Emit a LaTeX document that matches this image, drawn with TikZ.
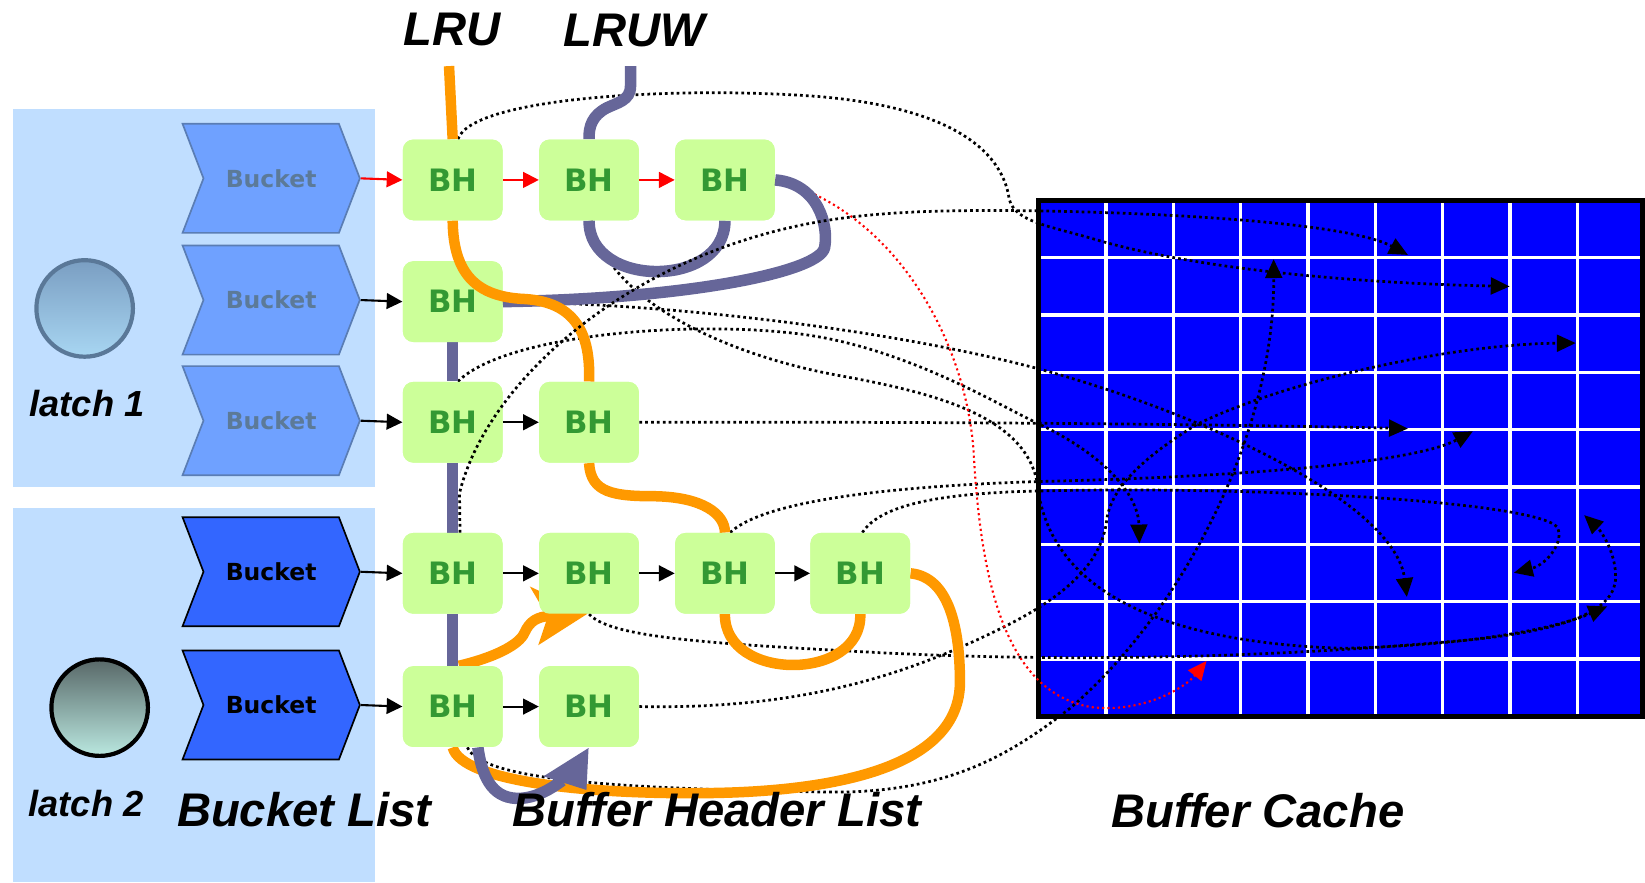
\documentclass[tikz,border=0pt]{standalone}
\usepackage{fontspec}
\setmainfont{DejaVu Sans}
\newfontfamily\labfont{Liberation Sans}
\usetikzlibrary{arrows.meta,shapes.symbols,calc}

\definecolor{panel}{RGB}{192,222,255}
\definecolor{bktlight}{RGB}{111,161,255}
\definecolor{bktlightline}{RGB}{90,125,180}
\definecolor{bktlighttext}{RGB}{92,122,152}
\definecolor{bktdark}{RGB}{51,102,255}
\definecolor{bhfill}{RGB}{204,255,153}
\definecolor{bhtext}{RGB}{51,153,51}
\definecolor{lruorange}{RGB}{255,153,0}
\definecolor{lruwpurple}{RGB}{102,102,153}
\definecolor{cacheblue}{RGB}{0,0,255}
\definecolor{latchA}{RGB}{122,158,194}
\definecolor{latchAb}{RGB}{168,214,242}
\definecolor{latchAline}{RGB}{90,120,152}
\definecolor{latchBtop}{RGB}{88,104,104}
\definecolor{latchBbot}{RGB}{186,232,224}

\begin{document}
\begin{tikzpicture}[x=0.5pt,y=-0.5pt,
  bkt/.style={shape=signal, signal from=west, signal to=east,
    signal pointer angle=138, minimum width=84.5pt, minimum height=52pt,
    inner sep=0pt, line width=0.8pt,
    font=\bfseries\fontsize{11.2}{13}\selectfont},
  bktup/.style={bkt, fill=bktlight, draw=bktlightline, text=bktlighttext},
  bktlo/.style={bkt, fill=bktdark, draw=black, text=black},
  bh/.style={rectangle, rounded corners=5pt, fill=bhfill,
    minimum width=47.5pt, minimum height=38.5pt, inner sep=0pt,
    text=bhtext, font=\bfseries\fontsize{14.7}{16}\selectfont},
  link/.style={-{Triangle[length=7.5pt,width=7.5pt]}, line width=1pt, black},
  redlink/.style={link, red},
  ptr/.style={-{Triangle[length=9pt,width=8pt]}, line width=1.3pt,
    dash pattern=on 1.3pt off 1.5pt, black},
  redptr/.style={ptr, red, line width=1pt, dash pattern=on 1pt off 1.5pt},
  lru/.style={line width=5pt, lruorange},
  lruw/.style={line width=5.5pt, lruwpurple},
  lab/.style={inner sep=0pt, font=\labfont\bfseries\itshape\fontsize{22.5}{26}\selectfont},
  latchlab/.style={inner sep=0pt, font=\labfont\bfseries\itshape\fontsize{17.3}{20}\selectfont},
]
\useasboundingbox (0,0) rectangle (1568,841);

% latch panels
\fill[panel] (12,104) rectangle (357,464);
\fill[panel] (12,484) rectangle (357,841);

% latch symbols
\node[circle, minimum size=46pt, inner sep=0pt, line width=2pt, draw=latchAline,
  top color=latchA, bottom color=latchAb] (c1) at (80.7,294) {};
\node[circle, minimum size=46pt, inner sep=0pt, line width=2pt, draw=black,
  top color=latchBtop, bottom color=latchBbot] (c2) at (95,674.5) {};
\node[latchlab, anchor=base] (l1) at (83,397) {latch 1};
\node[latchlab, anchor=base] (l2) at (82,778.5) {latch 2};

% bucket list
\node[bktup] (k1) at (258.5,170) {Bucket};
\node[bktup] (k2) at (258.5,286) {Bucket};
\node[bktup] (k3) at (258.5,401) {Bucket};
\node[bktlo] (k4) at (258.5,545) {Bucket};
\node[bktlo] (k5) at (258.5,672) {Bucket};

% buffer cache grid
\fill[cacheblue] (990,191) rectangle (1566,683);
\foreach \i in {1,...,8} {
  \draw[white, line width=1.6pt] ({990+64.2*\i},191) -- ({990+64.2*\i},683);
  \draw[white, line width=1.6pt] (990,{191+54.65*\i}) -- (1566,{191+54.65*\i});
}
\draw[line width=2.5pt] (990,191) rectangle (1566,683);

% cache cells referenced by the headers
\coordinate (t1) at (1342,243);
\coordinate (t2) at (1439,273);
\coordinate (t3) at (1214,247);
\coordinate (t4) at (1502,327);
\coordinate (t5) at (1342,408.5);
\coordinate (t6) at (1404,411);
\coordinate (t7) at (1086,518);
\coordinate (t8) at (1341,569);
\coordinate (t9) at (1443,546);
\coordinate (t10) at (1510,491);
\coordinate (t11) at (1532,578);
\coordinate (t12) at (1150,630);

% buffer headers (placed first so connectors can refer to them)
\path
  (431.5,171.5) node[bh] (bh11) {BH}
  (561.5,171.5) node[bh] (bh12) {BH}
  (691,171.5)   node[bh] (bh13) {BH}
  (431.5,287.5) node[bh] (bh21) {BH}
  (431.5,402.5) node[bh] (bh31) {BH}
  (561.5,402.5) node[bh] (bh32) {BH}
  (431.5,546.5) node[bh] (bh41) {BH}
  (561.5,546.5) node[bh] (bh42) {BH}
  (691,546.5)   node[bh] (bh43) {BH}
  (820,546.5)   node[bh] (bh44) {BH}
  (431.5,673.5) node[bh] (bh51) {BH}
  (561.5,673.5) node[bh] (bh52) {BH};

% pointers from headers into the cache
\draw[ptr] ($(bh11.north)+(5,0)$) .. controls (450,92) and (650,82) .. (780,92)
  .. controls (900,102) and (955,140) .. (962,190)
  .. controls (968,212) and (1000,215) .. (1050,230)
  .. controls (1150,258) and (1300,270) .. (t2);
\draw[ptr] (bh21.east) .. controls (650,290) and (850,315) .. (988,351)
  .. controls (1150,395) and (1330,480) .. (t8);
\draw[ptr] ($(bh31.north)+(5,0)$) .. controls (480,320) and (650,305) .. (760,318)
  .. controls (860,330) and (950,385) .. (988,403)
  .. controls (1050,432) and (1085,470) .. (t7);
\draw[ptr] ($(bh12.south)+(2,0)$) .. controls (580,290) and (700,340) .. (800,358)
  .. controls (900,376) and (985,400) .. (990,470)
  .. controls (1005,560) and (1100,612) .. (1280,618)
  .. controls (1400,615) and (1480,600) .. (t11);
\draw[ptr] (bh32.east) .. controls (800,402) and (1100,403) .. (t5);
\draw[ptr] ($(bh43.north)+(5,0)$) .. controls (720,485) and (800,465) .. (990,459)
  .. controls (1200,454) and (1350,440) .. (t6);
\draw[ptr] ($(bh44.north)+(2,0)$) .. controls (840,480) and (900,470) .. (990,468)
  .. controls (1200,463) and (1460,478) .. (1484,502)
  .. controls (1492,515) and (1475,538) .. (t9);
\draw[ptr] (bh42.south) .. controls (580,605) and (650,612) .. (800,620)
  .. controls (1000,632) and (1200,628) .. (1400,610)
  .. controls (1500,600) and (1540,580) .. (1540,550)
  .. controls (1540,525) and (1525,505) .. (t10);
\draw[ptr] ($(bh51.south)+(14,0)$) .. controls (460,745) and (600,752) .. (790,755)
  .. controls (900,756) and (960,722) .. (1020,675)
  .. controls (1120,590) and (1215,420) .. (t3);
\draw[ptr] (bh52.east) .. controls (750,676) and (850,650) .. (950,601)
  .. controls (1010,572) and (1050,540) .. (1055,495)
  .. controls (1060,460) and (1100,430) .. (1140,405)
  .. controls (1220,365) and (1380,328) .. (t4);
\draw[redptr] (bh13.east) .. controls (850,200) and (920,320) .. (928,430)
  .. controls (935,560) and (960,660) .. (1040,674)
  .. controls (1090,680) and (1130,655) .. (t12);

% LRU chain (parts that run beneath the headers)
\coordinate (lrutop) at (428,63);
\draw[lru] (lrutop) -- (bh11.north);
\draw[lru] (bh32.south) .. controls (563,470) and (585,473) .. (625,473)
  .. controls (670,474) and (691,490) .. (bh43.north);
\draw[lru] (bh43.south) .. controls (690,650) and (822,650) .. (bh44.south);
\draw[lru] (bh44.east) .. controls (905,550) and (915,600) .. (915,650)
  .. controls (915,730) and (800,755) .. (670,756)
  .. controls (560,757) and (440,745) .. (bh51.south);
\draw[lru] ($(bh51.north)+(6,0)$) .. controls (470,627) and (495,615) .. (500,603)
  .. controls (505,592) and (512,588) .. (524,587);
\fill[lruorange] (560,585) -- (505,559) -- (522,588) -- (513,615) -- cycle;

% LRUW chain
\coordinate (lruwtop) at (601,63);
\draw[lruw] (lruwtop) -- (601,82) .. controls (601,96) and (588,98) .. (578,103)
  .. controls (565,110) and (561,120) .. (bh12.north);
\draw[lruw] (bh12.south) .. controls (561,275) and (691,275) .. (bh13.south);
\draw[lruw] (bh21.south) -- (bh31.north);
\draw[lruw] (bh31.south) -- (bh41.north);
\draw[lruw] (bh41.south) -- (bh51.north);
\draw[lruw] ($(bh51.south)+(24,0)$) .. controls (460,745) and (472,762) .. (496,761)
  .. controls (512,760) and (525,752) .. (536,744);
\fill[lruwpurple] (561,713) -- (518,740) -- (559,753) -- cycle;

% headers drawn again on top of the chains
\path
  (431.5,171.5) node[bh] {BH}
  (561.5,171.5) node[bh] {BH}
  (691,171.5)   node[bh] {BH}
  (431.5,287.5) node[bh] {BH}
  (431.5,402.5) node[bh] {BH}
  (561.5,402.5) node[bh] {BH}
  (431.5,546.5) node[bh] {BH}
  (561.5,546.5) node[bh] {BH}
  (691,546.5)   node[bh] {BH}
  (820,546.5)   node[bh] {BH}
  (431.5,673.5) node[bh] {BH}
  (561.5,673.5) node[bh] {BH};

% chain parts that cross over the second header
\draw[lruw] (bh13.east) .. controls (780,175) and (790,215) .. (786,236)
  .. controls (781,260) and (650,285) .. (bh21.east);
\draw[lru] (bh11.south) .. controls (432,262) and (455,283) .. (500,285)
  .. controls (550,288) and (563,320) .. (bh32.north);

% pointer running up beside the LRUW chain
\draw[ptr] ($(bh41.north)+(7,0)$) -- (438,470) .. controls (460,380) and (560,280) .. (700,232)
  .. controls (780,205) and (850,199) .. (990,201)
  .. controls (1150,204) and (1290,215) .. (t1);

% hash chains
\draw[redlink] (k1.east) -- (bh11.west);
\draw[redlink] (bh11.east) -- (bh12.west);
\draw[redlink] (bh12.east) -- (bh13.west);
\draw[link] (k2.east) -- (bh21.west);
\draw[link] (k3.east) -- (bh31.west);
\draw[link] (bh31.east) -- (bh32.west);
\draw[link] (k4.east) -- (bh41.west);
\draw[link] (bh41.east) -- (bh42.west);
\draw[link] (bh42.east) -- (bh43.west);
\draw[link] (bh43.east) -- (bh44.west);
\draw[link] (k5.east) -- (bh51.west);
\draw[link] (bh51.east) -- (bh52.west);

% titles
\node[lab, anchor=base] (lru) at (431,43) {LRU};
\node[lab, anchor=base] (lruw) at (604.5,44.5) {LRUW};
\node[lab, anchor=base] (bl) at (290,788) {Bucket List};
\node[lab, anchor=base] (bhl) at (683.5,788) {Buffer Header List};
\node[lab, anchor=base] (bc) at (1199,789) {Buffer Cache};
\end{tikzpicture}
\end{document}
